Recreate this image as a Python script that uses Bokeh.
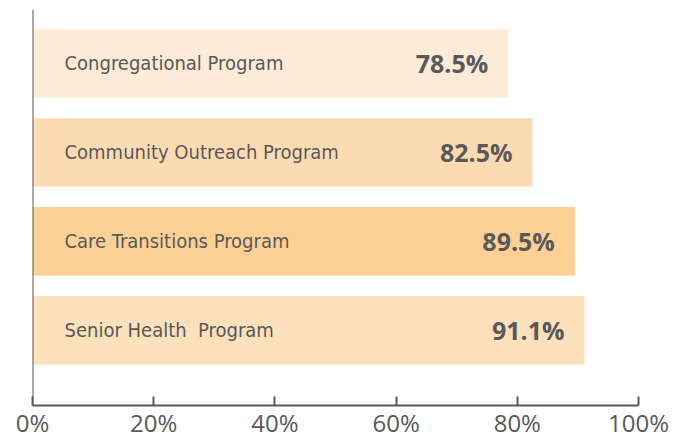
from bokeh.plotting import figure
from bokeh.models import Range1d, FixedTicker, PrintfTickFormatter, Span, ColumnDataSource
from bokeh.core.properties import value
from bokeh.embed import file_html
from bokeh.resources import INLINE

programs = ["Congregational Program", "Community Outreach Program", "Care Transitions Program", "Senior Health\u00a0 Program"]
rates = [78.5, 82.5, 89.5, 91.1]
rate_labels = ["78.5%", "82.5%", "89.5%", "91.1%"]
bar_colors = ["#FCEBD6", "#FDDBB2", "#FDD195", "#FDE0BC"]
x_ticks = [0, 20, 40, 60, 80, 100]

n = len(programs)
ys = [n - i for i in range(n)]
src = ColumnDataSource(dict(y=ys, rate=rates, prog=programs, lab=rate_labels,
                            color=bar_colors, zero=[0] * n))

p = figure(width=689, height=441, output_backend="svg", toolbar_location=None,
           x_range=Range1d(0, 100), y_range=Range1d(0.153, n + 0.607),
           min_border_left=32, min_border_right=51, min_border_top=9, min_border_bottom=35)
p.outline_line_color = None
p.background_fill_color = "white"
p.border_fill_color = "white"
p.grid.visible = False
p.yaxis.visible = False

p.hbar(y="y", left="zero", right="rate", height=0.77, color="color", line_color=None, source=src)

label_font = value("'DejaVu Sans Condensed', sans-serif")
p.text(x="zero", y="y", text="prog", source=src, x_offset=32, text_align="left",
       text_baseline="middle", text_font=label_font, text_font_size="20px", text_color="#595959")
p.text(x="rate", y="y", text="lab", source=src, x_offset=-20, text_align="right",
       text_baseline="middle", text_font=value("Open Sans"), text_font_style="bold",
       text_font_size="25px", text_color="#595959")

p.add_layout(Span(location=0, dimension="height", line_color="#595959", line_width=2))

ax = p.xaxis[0]
ax.ticker = FixedTicker(ticks=x_ticks)
ax.formatter = PrintfTickFormatter(format="%d%%")
ax.axis_line_color = "#595959"
ax.axis_line_width = 2
ax.major_tick_in = 9
ax.major_tick_out = 0
ax.major_tick_line_color = "#595959"
ax.major_tick_line_width = 2
ax.minor_tick_line_color = None
ax.major_label_text_font = "Open Sans"
ax.major_label_text_font_size = "24px"
ax.major_label_text_color = "#595959"
ax.major_label_standoff = 0

open("out.html", "w").write(file_html(p, INLINE))
